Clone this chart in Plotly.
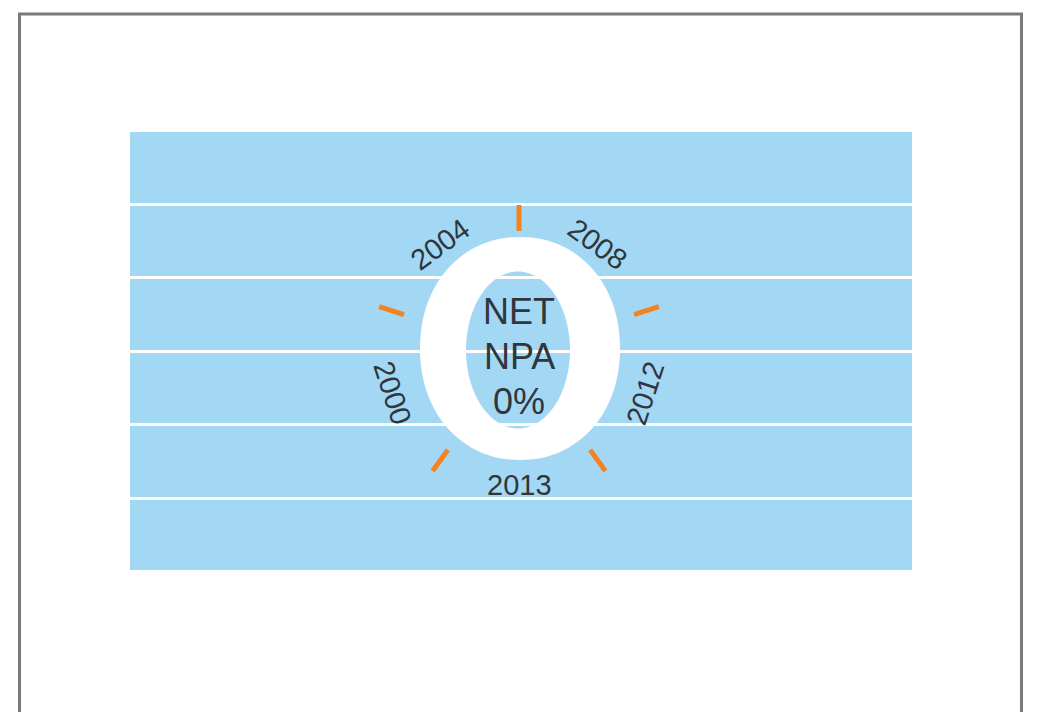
import numpy as np
import plotly.graph_objects as go

# ---- data ----
years = ["2000", "2004", "2008", "2012", "2013"]
year_angles = [252, 324, 36, 108, 180]          # clock angle (deg) of each year label
tick_angles = [0, 72, 144, 216, 288]            # clock angle (deg) of orange ticks
net_npa_value = 0                               # Net NPA in %
center_lines = ["NET", "NPA", f"{net_npa_value}%"]

# ---- styling / geometry ----
W, H = 1037, 712
OFF = 8                                  # page body margin
BLUE = "#a3d8f5"
ORANGE = "#f5821f"
TEXT = "#30363c"
X0, X1, Y0, Y1 = 130, 912, 132, 570      # blue panel (pixel units)
CX, CY = 519, 352                        # centre of the dial
R_TICK, TICK_LEN = 134, 26
R_LABEL = 133

fig = go.Figure()

# orange ticks
tx, ty = [], []
for a in tick_angles:
    t = np.radians(a)
    for r in (R_TICK - TICK_LEN / 2, R_TICK + TICK_LEN / 2):
        tx.append(CX + r * np.sin(t))
        ty.append(CY - r * np.cos(t))
    tx.append(None)
    ty.append(None)
fig.add_trace(go.Scatter(x=tx, y=ty, mode="lines",
                         line=dict(color=ORANGE, width=5),
                         hoverinfo="skip", showlegend=False))

# big white "0" ring as an even-odd path
def ellipse_path(cx, cy, rx, ry, n=120, p=2.0):
    th = np.linspace(0, 2 * np.pi, n, endpoint=False)
    c, s = np.cos(th), np.sin(th)
    xs = cx + rx * np.sign(c) * np.abs(c) ** (2 / p)
    ys = cy + ry * np.sign(s) * np.abs(s) ** (2 / p)
    pts = [f"{x:.2f},{y:.2f}" for x, y in zip(xs, ys)]
    return "M" + " L".join(pts) + " Z"

ring = ellipse_path(520, 348.5, 100, 111.5, p=2.1) + " " + ellipse_path(518, 350, 52, 78.5)
fig.add_shape(type="path", path=ring, xref="x", yref="y",
              fillcolor="white", line=dict(width=0), fillrule="evenodd", layer="between")

# year labels around the dial
for yr, a in zip(years, year_angles):
    t = np.radians(a)
    aa = ((a + 180) % 360) - 180
    ang = aa if abs(aa) <= 90 else (aa - 180 if aa > 0 else aa + 180)
    fig.add_annotation(x=CX + R_LABEL * np.sin(t), y=CY - R_LABEL * np.cos(t),
                       text=yr, showarrow=False, textangle=ang,
                       xanchor="center", yanchor="middle",
                       font=dict(family="Liberation Sans, Arial, sans-serif", size=29, color=TEXT))

# centre text
for i, line in enumerate(center_lines):
    fig.add_annotation(x=CX, y=311 + 45 * i, text=line, showarrow=False,
                       xanchor="center", yanchor="middle",
                       font=dict(family="Liberation Sans, Arial, sans-serif",
                                 size=36, color=TEXT))

# outer frame
fig.add_shape(type="rect", xref="paper", yref="paper",
              x0=(19.5 - OFF) / W, x1=(1021.5 - OFF) / W, y0=-0.05, y1=1 - (14 - OFF) / H,
              line=dict(color="#7a7a7a", width=3), fillcolor="rgba(0,0,0,0)")

fig.update_layout(
    width=W, height=H,
    margin=dict(l=0, r=0, t=0, b=0),
    paper_bgcolor="white", plot_bgcolor=BLUE,
    xaxis=dict(domain=[(X0 - OFF) / W, (X1 - OFF) / W], range=[X0, X1], showgrid=False,
               zeroline=False, showticklabels=False, ticks=""),
    yaxis=dict(domain=[1 - (Y1 - OFF) / H, 1 - (Y0 - OFF) / H], range=[Y1, Y0], showgrid=True,
               gridcolor="white", gridwidth=2.5, tick0=204, dtick=73.5,
               zeroline=False, showticklabels=False, ticks=""),
    showlegend=False,
)

fig.write_html("out.html")
